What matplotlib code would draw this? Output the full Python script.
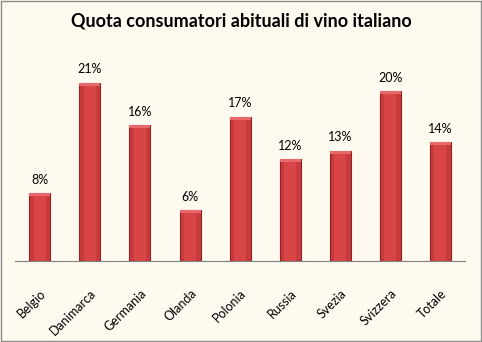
import numpy as np
import matplotlib.pyplot as plt
from matplotlib.patches import Rectangle

# Dati
paesi = ["Belgio", "Danimarca", "Germania", "Olanda", "Polonia",
         "Russia", "Svezia", "Svizzera", "Totale"]
quote = [8, 21, 16, 6, 17, 12, 13, 20, 14]

sfondo = "#FFFAF0"
plt.rcParams["font.family"] = ["Lato", "DejaVu Sans"]

fig = plt.figure(figsize=(4.82, 3.42), dpi=100, facecolor=sfondo)
ax = fig.add_axes([0.031, 0.237, 0.934, 0.596], facecolor=sfondo)

x = np.arange(len(paesi))
barre = ax.bar(x, quote, width=0.42, color="#C83A3C", edgecolor="#8E2224", linewidth=0.8)

# leggera sfumatura sulle barre
for b in barre:
    bx, bw, bh = b.get_x(), b.get_width(), b.get_height()
    ax.add_patch(Rectangle((bx + bw * 0.2, 0), bw * 0.6, bh, color="#D84547", lw=0))
    ax.add_patch(Rectangle((bx, bh - 0.35), bw, 0.35, color="#E8696B", lw=0))

for xi, q in zip(x, quote):
    ax.text(xi, q + 0.85, f"{q}%", ha="center", va="bottom", fontsize=9)

ax.set_xlim(-0.5, len(paesi) - 0.5)
ax.set_ylim(0, 24)
ax.set_yticks([])
ax.set_xticks(x)
ax.set_xticklabels(paesi, rotation=45, ha="right", va="top", rotation_mode="anchor", fontsize=9)
ax.tick_params(axis="x", length=0, pad=19)
for s in ["top", "right", "left"]:
    ax.spines[s].set_visible(False)
ax.spines["bottom"].set_color("#808080")

fig.text(0.5, 0.94, "Quota consumatori abituali di vino italiano",
         ha="center", va="center", fontsize=13, fontweight="bold")

fig.patches.append(Rectangle((0.002, 0.003), 0.995, 0.994, transform=fig.transFigure,
                             fill=False, edgecolor="#8C8C8C", linewidth=1))

fig.savefig("out.png", dpi=100, facecolor=sfondo)
